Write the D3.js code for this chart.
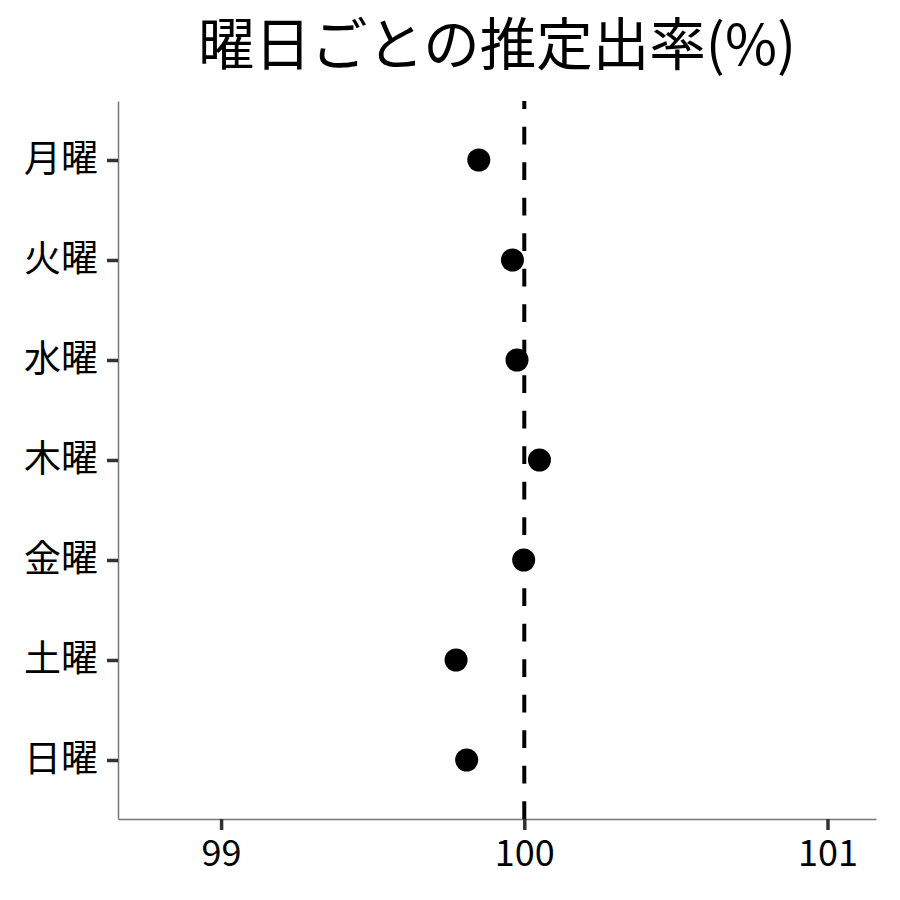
<!DOCTYPE html>
<html>
<head>
<meta charset="utf-8">
<script src="https://cdn.jsdelivr.net/npm/d3@7"></script>
<style>
  html, body { margin: 0; padding: 0; background: #fff; }
  svg { display: block; }
  text { font-family: "Noto Sans CJK JP", "Noto Sans", sans-serif; fill: #000; }
</style>
</head>
<body>
<svg id="chart" width="900" height="900"></svg>
<script>
// Data
const DAYS   = ["月曜","火曜","水曜","木曜","金曜","土曜","日曜"];
const rates  = [99.85, 99.961, 99.976, 100.05, 99.998, 99.775, 99.81];
const xTicks = [99, 100, 101];
const refLine = 100;
const TITLE = "曜日ごとの推定出率(%)";

// Chart setup
const svg = d3.select("#chart");
const MARGIN = { top: 101, right: 24, bottom: 81, left: 118 };
const W = 900, H = 900;
const iW = W - MARGIN.left - MARGIN.right;
const iH = H - MARGIN.top - MARGIN.bottom;

const x = d3.scaleLinear().domain([98.66, 101.16]).range([0, iW]);
const y = d3.scalePoint().domain(DAYS).range([0, iH]).padding(0.59);

const root = svg.append("g")
  .attr("transform", `translate(${MARGIN.left},${MARGIN.top})`);

// axes
const xAxisG = root.append("g")
  .attr("transform", `translate(0,${iH})`)
  .call(d3.axisBottom(x).tickValues(xTicks).tickFormat(d3.format("d"))
    .tickSizeInner(11).tickSizeOuter(0).tickPadding(10));
xAxisG.select(".domain").attr("stroke", "#777").attr("stroke-width", 1.5);
xAxisG.selectAll(".tick line").attr("stroke", "#333").attr("stroke-width", 3.5);
xAxisG.selectAll(".tick text")
  .attr("fill", "#000").attr("font-size", "36px")
  .attr("font-family", "'Noto Sans CJK JP', sans-serif");

const yAxisG = root.append("g")
  .call(d3.axisLeft(y).tickSizeInner(11).tickSizeOuter(0).tickPadding(9));
yAxisG.select(".domain").attr("stroke", "#777").attr("stroke-width", 1.5);
yAxisG.selectAll(".tick line").attr("stroke", "#333").attr("stroke-width", 3.5);
yAxisG.selectAll(".tick text")
  .attr("fill", "#000").attr("font-size", "37px")
  .attr("font-family", "'Noto Sans CJK JP', sans-serif");

// reference line (drawn from bottom to top)
root.append("line")
  .attr("x1", x(refLine)).attr("x2", x(refLine))
  .attr("y1", iH).attr("y2", 0)
  .attr("stroke", "#000").attr("stroke-width", 4)
  .attr("stroke-dasharray", "17.75 17.75");

// points
root.selectAll("circle.pt").data(DAYS).join("circle")
  .attr("class", "pt")
  .attr("cx", (d, i) => x(rates[i]))
  .attr("cy", d => y(d))
  .attr("r", 11.5)
  .attr("fill", "#000");

// title
svg.append("text")
  .attr("x", MARGIN.left + iW / 2)
  .attr("y", 65)
  .attr("text-anchor", "middle")
  .attr("font-size", "56.5px")
  .text(TITLE);
</script>
</body>
</html>
